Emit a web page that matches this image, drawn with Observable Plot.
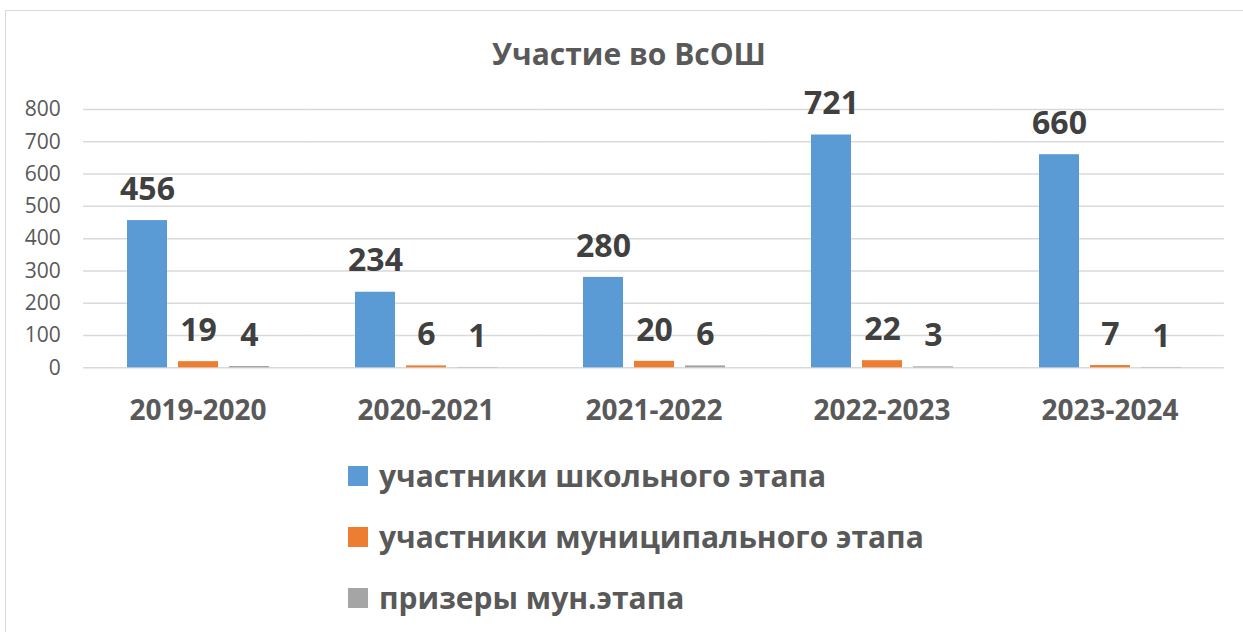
<!DOCTYPE html>
<html>
<head>
<meta charset="utf-8">
<script src="https://cdn.jsdelivr.net/npm/d3@7"></script>
<script src="https://cdn.jsdelivr.net/npm/@observablehq/plot@0.6"></script>
<style>
  html, body { margin: 0; padding: 0; background: #fff; overflow: hidden; }
  body { width: 1243px; height: 632px; position: relative; font-family: "Open Sans", sans-serif; }
  #frame { position: absolute; left: 5px; top: 10px; width: 1400px; height: 800px;
           border-left: 1.5px solid #d9d9d9; border-top: 1.5px solid #d9d9d9; pointer-events: none; }
  #title { position: relative; height: 80px; width: 1243px; }
  #title span { position: absolute; left: 15px; right: 0; top: 39px; text-align: center;
                font-size: 30px; line-height: 30px; font-weight: bold; color: #595959; }
  #chart { position: relative; height: 365px; }
  #chart svg { display: block; }
  #legend { position: relative; padding-left: 348px; }
  .row { height: 61px; display: flex; align-items: center; }
  .sw { width: 20px; height: 20px; margin-right: 11px; flex: none; }
  .lab { font-size: 30px; line-height: 61px; font-weight: bold; color: #595959; white-space: nowrap; }
</style>
</head>
<body>
<div id="frame"></div>
<div id="title"><span></span></div>
<div id="chart"></div>
<div id="legend"></div>
<script>
const chartTitle = "Участие во ВсОШ";
const years = ["2019-2020", "2020-2021", "2021-2022", "2022-2023", "2023-2024"];
const seriesNames = ["участники школьного этапа", "участники муниципального этапа", "призеры мун.этапа"];
const school = [456, 234, 280, 721, 660];
const municipal = [19, 6, 20, 22, 7];
const prizes = [4, 1, 6, 3, 1];
const colors = ["#5b9bd5", "#ed7d31", "#a5a5a5"];
const yTicks = [0, 100, 200, 300, 400, 500, 600, 700, 800];

const seriesValues = [school, municipal, prizes];
const data = years.flatMap((year, i) =>
  seriesValues.map((vals, j) => ({year, series: seriesNames[j], value: vals[i]}))
);

document.querySelector("#title span").textContent = chartTitle;

const fxPadInner = 0.331, fxPadOuter = 0.1655;
const plotWidth = 1243, mLeft = 82, mRight = 18;
// half of the gap between facets, so per-facet grid rules join into continuous lines
const fxStep = (plotWidth - mLeft - mRight) / (years.length - fxPadInner + 2 * fxPadOuter);
const gridExtend = -fxStep * fxPadInner / 2;
const outerGap = fxStep * fxPadOuter;

const chart = Plot.plot({
  width: plotWidth,
  height: 365,
  marginTop: 29,
  marginBottom: 77.7,
  marginLeft: mLeft,
  marginRight: mRight,
  style: {fontFamily: "Open Sans", color: "#595959", background: "transparent", overflow: "visible"},
  fx: {domain: years, paddingInner: fxPadInner, paddingOuter: fxPadOuter, label: null},
  x: {domain: seriesNames, paddingInner: 0.216, paddingOuter: 0.108, axis: null},
  y: {domain: [0, 800], label: null},
  color: {domain: seriesNames, range: colors},
  marks: [
    Plot.ruleY(yTicks, {stroke: "#d9d9d9", strokeWidth: 1.5, insetLeft: gridExtend, insetRight: gridExtend}),
    Plot.axisY(yTicks, {tickSize: 0, tickPadding: 23 + outerGap, fontSize: 21, label: null, fill: "#595959"}),
    Plot.axisFx({anchor: "bottom", tickSize: 0, tickPadding: 32, fontSize: 28, fontWeight: "bold", label: null, fill: "#595959"}),
    Plot.barY(data, {fx: "year", x: "series", y: "value", fill: "series"}),
    Plot.text(data, {fx: "year", x: "series", y: "value", text: d => String(d.value),
      dy: -31, fontSize: 32, fontWeight: "bold", fill: "#404040"})
  ]
});
document.getElementById("chart").appendChild(chart);

const legend = document.getElementById("legend");
seriesNames.forEach((name, i) => {
  const row = document.createElement("div");
  row.className = "row";
  const sw = document.createElement("div");
  sw.className = "sw";
  sw.style.background = colors[i];
  const lab = document.createElement("span");
  lab.className = "lab";
  lab.textContent = name;
  row.appendChild(sw);
  row.appendChild(lab);
  legend.appendChild(row);
});
</script>
</body>
</html>
